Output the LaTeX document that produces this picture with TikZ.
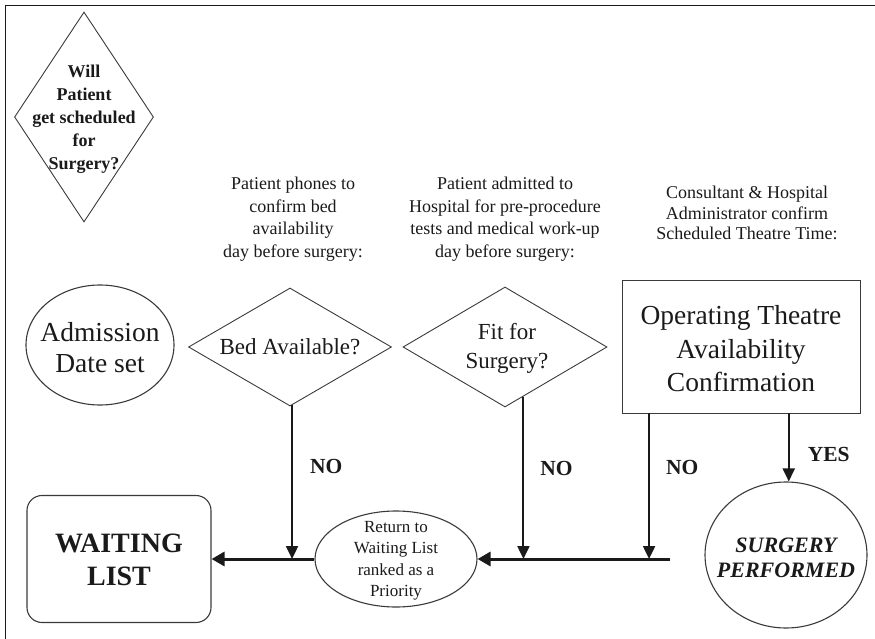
\documentclass[tikz,border=0pt]{standalone}
\usepackage{fontspec}
\setmainfont{Liberation Serif}
\usepackage{tikz}
\usetikzlibrary{calc,shapes.geometric,arrows.meta}
\definecolor{ink}{HTML}{1A1A1A}
\definecolor{rim}{HTML}{3A3A3A}
\tikzset{
  outline/.style={draw=rim, line width=0.9pt, inner sep=0pt},
  dmd/.style={outline, diamond},
  oval/.style={outline, ellipse, line width=1.1pt},
  note/.style={text=ink, align=center, font=\fontsize{18}{22.5}\selectfont},
  qtext/.style={text=ink, align=center, font=\bfseries\fontsize{18}{23}\selectfont},
  midtext/.style={text=ink, align=center, font=\fontsize{23}{29}\selectfont},
  bigtext/.style={text=ink, align=center, font=\fontsize{27.5}{32}\selectfont},
  varrow/.style={draw=ink, line width=2pt, -{Triangle[length=13pt,width=12pt]}},
  harrow/.style={draw=ink, line width=3pt, -{Triangle[length=13pt,width=14pt]}},
  nolbl/.style={text=ink, font=\bfseries\fontsize{21.5}{24}\selectfont, right, inner sep=0pt}
}
\begin{document}
\begin{tikzpicture}[x=1pt, y=-1pt]
  \useasboundingbox (0,0) rectangle (875,639);
  \draw[draw=ink, line width=1pt] (5.5,639) -- (5.5,5.5) -- (875,5.5);

  \node[dmd, minimum width=139pt, minimum height=210pt] (q) at (84,117) {};
  \node[qtext] (q-t) at (84,119) {Will\\Patient\\get scheduled\\for\\Surgery?};

  \node[note] (n-bed) at (293,219) {Patient phones to\\confirm bed\\availability\\day before surgery:};
  \node[note] (n-fit) at (505,219) {Patient admitted to\\Hospital for pre-procedure\\tests and medical work-up\\day before surgery:};
  \node[note, font=\fontsize{18}{20.5}\selectfont] (n-ot) at (747,213) {Consultant \& Hospital\\Administrator confirm\\Scheduled Theatre Time:};

  \node[oval, minimum width=148pt, minimum height=120pt] (adm) at (100,345) {};
  \node[bigtext, font=\fontsize{27.5}{31}\selectfont] (adm-t) at (100,348) {Admission\\Date set};

  \node[dmd, minimum width=203pt, minimum height=118pt] (bed) at (290,347) {};
  \node[midtext] (bed-t) at (290,347) {Bed Available?};

  \node[dmd, minimum width=204pt, minimum height=120pt] (fit) at (505,347) {};
  \node[midtext] (fit-t) at (507,348) {Fit for\\Surgery?};

  \node[outline, rectangle, line width=0.8pt, minimum width=238pt, minimum height=133pt] (ot) at (741,346.5) {};
  \node[bigtext, font=\fontsize{27.5}{33.5}\selectfont] (ot-t) at (741,349) {Operating Theatre\\Availability\\Confirmation};

  \node[outline, rectangle, rounded corners=15pt, line width=1.1pt, minimum width=184pt, minimum height=127pt] (wait) at (119,559) {};
  \node[text=ink, align=center, font=\bfseries\fontsize{28}{33}\selectfont] (wait-t) at (119,560) {WAITING\\LIST};

  \node[oval, minimum width=162pt, minimum height=96pt] (ret) at (396,559) {};
  \node[text=ink, align=center, font=\fontsize{17}{21.5}\selectfont] (ret-t) at (396,561) {Return to\\Waiting List\\ranked as a\\Priority};

  \node[oval, minimum width=162pt, minimum height=146pt] (surg) at (786,555) {};
  \node[text=ink, align=center, font=\bfseries\itshape\fontsize{22}{25}\selectfont] (surg-t) at (786,558) {SURGERY\\PERFORMED};

  \coordinate (trunk) at (670,559);
  \coordinate (bed-out) at ($(bed.south)!0.02!(bed.east)$);
  \coordinate (fit-out) at ($(fit.south)!0.18!(fit.east)$);
  \coordinate (ot-no) at ($(ot.south west)!0.115!(ot.south east)$);
  \coordinate (ot-yes) at ($(ot.south west)!0.70!(ot.south east)$);

  \draw[varrow] (bed-out) -- node[nolbl, pos=0.40, xshift=17pt] {NO} (bed-out |- trunk);
  \draw[varrow] (fit-out) -- node[nolbl, pos=0.44, xshift=16pt] {NO} (fit-out |- trunk);
  \draw[varrow] (ot-no) -- node[nolbl, pos=0.37, xshift=16pt] {NO} (ot-no |- trunk);
  \draw[varrow] (ot-yes) -- node[nolbl, pos=0.61, xshift=18pt] {YES} (ot-yes |- surg.north);

  \draw[harrow] (trunk) -- (ret.east);
  \draw[harrow] (ret.west) -- (wait.east);
\end{tikzpicture}
\end{document}
